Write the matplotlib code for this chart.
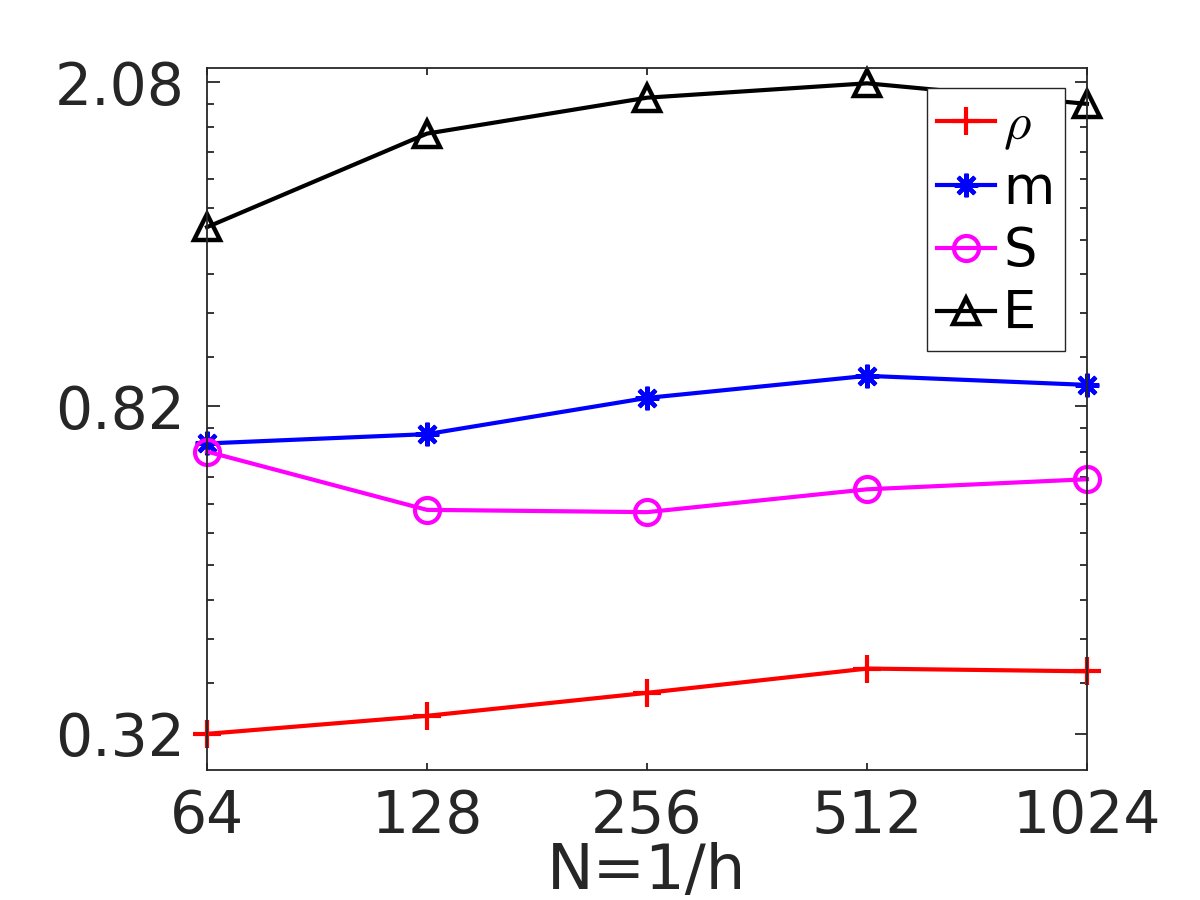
import numpy as np
import matplotlib
matplotlib.use('Agg')
import matplotlib.pyplot as plt
from matplotlib.ticker import FixedLocator, NullFormatter

plt.rcParams['mathtext.fontset'] = 'cm'

# Data (log-log, N = 1/h)
N = [64, 128, 256, 512, 1024]
rho = [0.320, 0.337, 0.360, 0.386, 0.383]
m = [0.737, 0.757, 0.840, 0.895, 0.872]
S = [0.720, 0.609, 0.605, 0.646, 0.665]
E = [1.372, 1.795, 1.990, 2.074, 1.955]

yticks = [0.32, 0.82, 2.08]
xticks = [64, 128, 256, 512, 1024]

fig = plt.figure(figsize=(12, 9), dpi=100)
ax = fig.add_axes([0.1725, 0.1444, 0.7333, 0.78])

lw = 3.0
ax.plot(N, rho, color='#ff0000', lw=lw, marker='+', ms=20, mew=3.0,
        clip_on=False, label=r'$\rho$')
ax.plot(N, m, color='#0000ff', lw=lw, marker=(8, 2, 0), ms=17, mew=3.0,
        clip_on=False, label='m')
ax.plot(N, S, color='#ff00ff', lw=lw, marker='o', ms=18, mew=3.0,
        markerfacecolor='none', clip_on=False, label='S')
ax.plot(N, E, color='black', lw=lw, marker='^', ms=19, mew=3.2,
        markerfacecolor='none', clip_on=False, label='E')

ax.set_xscale('log', base=2)
ax.set_yscale('log')
ax.set_xlim(64, 1024)
ax.set_ylim(0.2884, 2.167)

ax.set_xticks(xticks)
ax.set_xticklabels([str(v) for v in xticks])
ax.xaxis.set_minor_locator(FixedLocator([]))
ax.set_yticks(yticks)
ax.set_yticklabels(['%.2f' % v for v in yticks])
# MATLAB-style linear minor ticks between the major ones
minor = np.concatenate([np.linspace(yticks[i], yticks[i + 1], 11)[1:-1]
                        for i in range(len(yticks) - 1)])
ax.yaxis.set_minor_locator(FixedLocator(minor))
ax.yaxis.set_minor_formatter(NullFormatter())

dark = '#262626'
for sp in ax.spines.values():
    sp.set_color(dark)
    sp.set_linewidth(1.3)
ax.tick_params(axis='both', which='both', direction='in', top=True, right=True,
               colors=dark, labelcolor=dark, width=1.3)
ax.tick_params(axis='y', which='major', length=9, labelsize=42, pad=16)
ax.tick_params(axis='y', which='minor', length=5)
ax.tick_params(axis='x', which='major', length=5, labelsize=42, pad=13)

ax.set_xlabel('N=1/h', fontsize=45, color=dark, labelpad=-2)

leg = ax.legend(loc='upper right', bbox_to_anchor=(1065 / 1200, 1 - 88 / 900),
                bbox_transform=fig.transFigure, fontsize=38, numpoints=1,
                handlelength=1.1, handletextpad=0.15, labelspacing=0.2,
                borderpad=0.2, borderaxespad=0, fancybox=False, framealpha=1)
leg.get_frame().set_edgecolor(dark)
leg.get_frame().set_linewidth(1.0)
for t in leg.get_texts():
    t.set_color('black')

fig.savefig('out.png', dpi=100)
